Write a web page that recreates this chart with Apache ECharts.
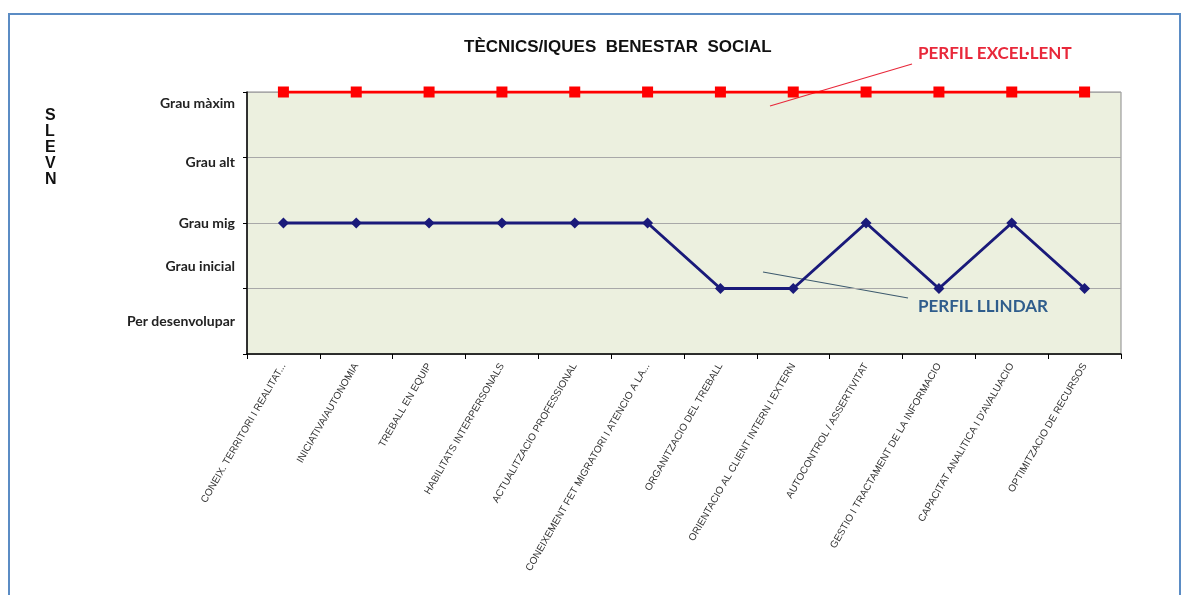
<!DOCTYPE html>
<html><head><meta charset="utf-8">
<script src="https://cdn.jsdelivr.net/npm/echarts@6/dist/echarts.min.js"></script>
<style>html,body{margin:0;padding:0;background:#fff}#c{width:1191px;height:595px}</style>
</head><body><div id="c"></div>
<script>
const categories = [
  "CONEIX. TERRITORI I REALITAT...",
  "INICIATIVA/AUTONOMIA",
  "TREBALL EN EQUIP",
  "HABILITATS INTERPERSONALS",
  "ACTUALITZACIO PROFESSIONAL",
  "CONEIXEMENT FET MIGRATORI I ATENCIO A LA...",
  "ORGANITZACIO DEL TREBALL",
  "ORIENTACIO AL CLIENT INTERN I EXTERN",
  "AUTOCONTROL / ASSERTIVITAT",
  "GESTIO I TRACTAMENT DE LA INFORMACIO",
  "CAPACITAT ANALITICA I D'AVALUACIO",
  "OPTIMITZACIO DE RECURSOS"
];
const perfilExcellent = [4,4,4,4,4,4,4,4,4,4,4,4];
const perfilLlindar = [2,2,2,2,2,2,1,1,2,1,2,1];
const levelLabels = ["Per desenvolupar","Grau inicial","Grau mig","Grau alt","Grau màxim"];
const levelLabelValues = [0.5,1.33,2.0,2.92,3.82];
const tickValues = [0,1,2,3,4];

const chart = echarts.init(document.getElementById('c'));
chart.setOption({
  animation:false,
  backgroundColor:'#fff',
  title:{text:'TÈCNICS/IQUES  BENESTAR  SOCIAL', left:459, top:34,
    textStyle:{fontFamily:'Liberation Sans', fontSize:17, fontWeight:'bold', color:'#111'}},
  grid:{left:247, top:92, right:70, bottom:241, show:true, backgroundColor:'#ecf0df', borderColor:'#8a8a8a', borderWidth:1},
  xAxis:{type:'category', data:categories, boundaryGap:true,
    axisLine:{lineStyle:{color:'#000', width:1.5}},
    axisTick:{show:true, length:5, lineStyle:{color:'#000'}},
    axisLabel:{rotate:60, interval:0, fontFamily:'Liberation Sans', fontSize:10, color:'#333', margin:10}},
  yAxis:{type:'value', min:0, max:4, interval:1,
    axisLine:{show:true, lineStyle:{color:'#000', width:1.5}},
    axisTick:{show:true, length:4, customValues:tickValues, lineStyle:{color:'#000'}},
    splitLine:{show:true, lineStyle:{color:'#a8a8a8', width:1.2}},
    axisLabel:{customValues:levelLabelValues, margin:12, fontFamily:'Lato', fontWeight:'bold', fontSize:14, color:'#222',
      formatter:function(v){ const i=levelLabelValues.findIndex(x=>Math.abs(x-v)<1e-6); return i>=0?levelLabels[i]:''; }}},
  series:[
    {name:'PERFIL EXCEL·LENT', type:'line', data:perfilExcellent, symbol:'rect', symbolSize:11,
      lineStyle:{color:'#ff0000', width:3}, itemStyle:{color:'#ff0000'}, z:5},
    {name:'PERFIL LLINDAR', type:'line', data:perfilLlindar, symbol:'diamond', symbolSize:11,
      lineStyle:{color:'#1a1a7a', width:3}, itemStyle:{color:'#1a1a7a'}, z:4}
  ],
  graphic:[
    {type:'rect', shape:{x:9, y:14, width:1171, height:600}, style:{fill:'none', stroke:'#5b8cc4', lineWidth:2}, silent:true},
    {type:'text', left:45, top:108, style:{text:'S\nL\nE\nV\nN', font:'bold 16px "Liberation Sans Narrow", "Liberation Sans"', lineHeight:16, fill:'#111'}},
    {type:'line', shape:{x1:770, y1:106, x2:912, y2:64}, style:{stroke:'#e8283a', lineWidth:1.2}},
    {type:'text', left:918, top:45, style:{text:'PERFIL EXCEL·LENT', font:'bold 17px Lato', fill:'#e8283a'}},
    {type:'line', shape:{x1:763, y1:272, x2:908, y2:298}, style:{stroke:'#3d5a6e', lineWidth:1.2}},
    {type:'text', left:918, top:298, style:{text:'PERFIL LLINDAR', font:'bold 17px Lato', fill:'#2f5d8c'}}
  ]
});
</script></body></html>
